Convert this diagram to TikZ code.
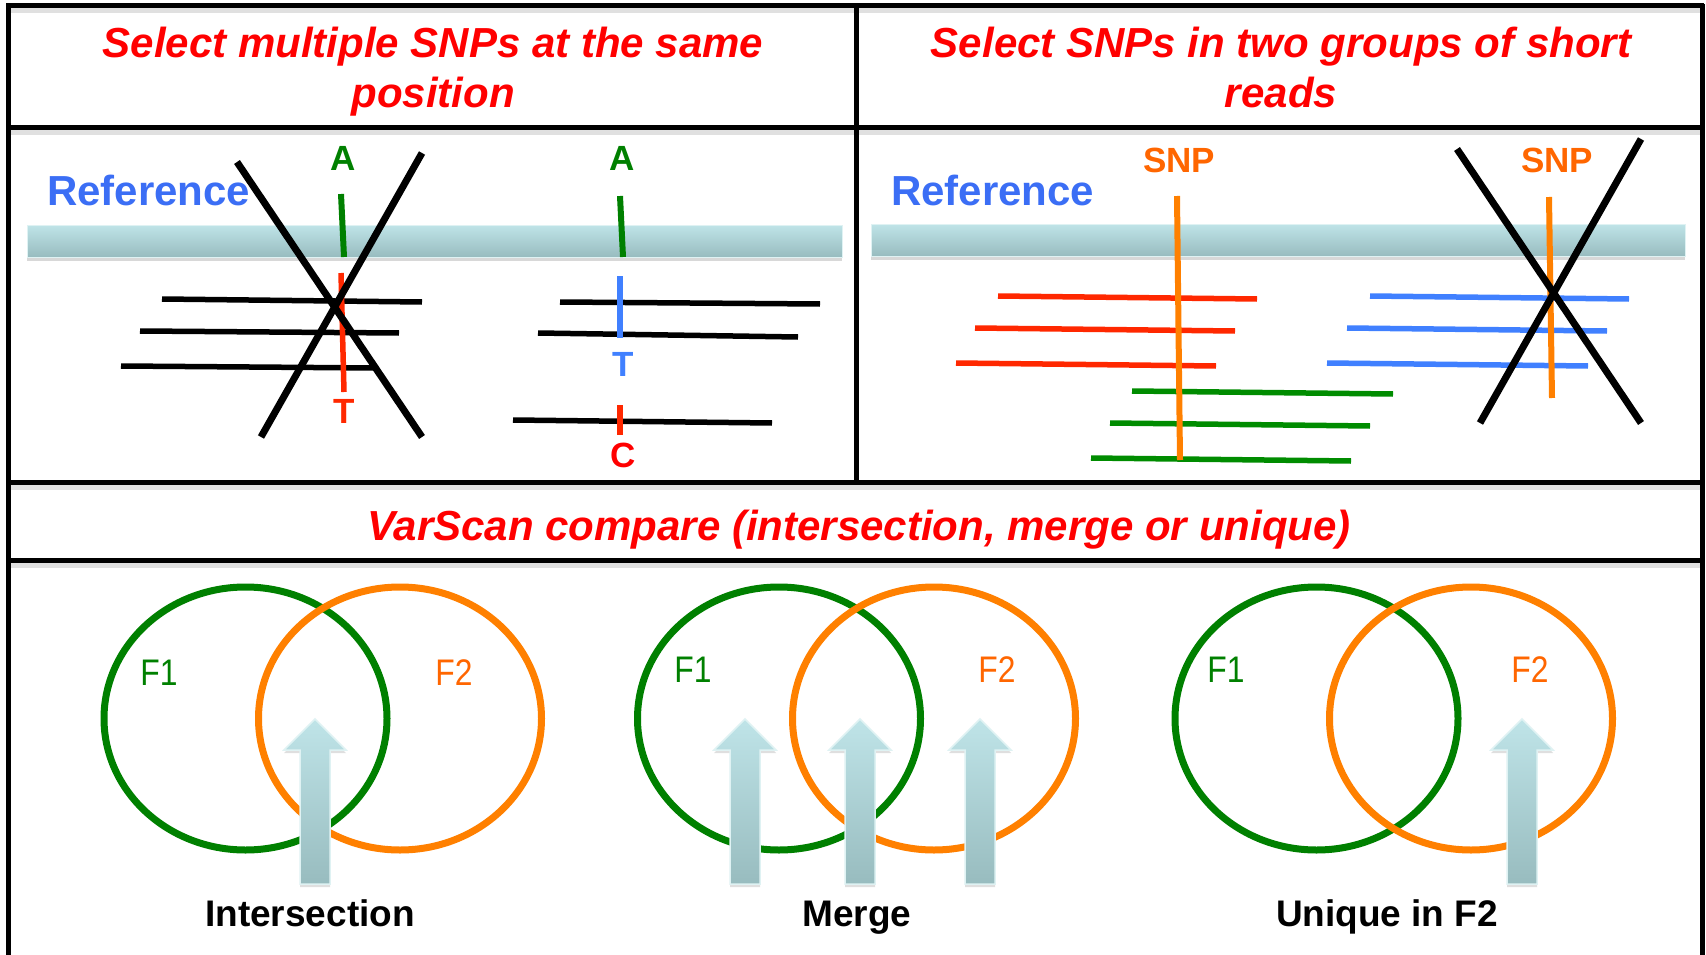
\documentclass[tikz,border=0pt]{standalone}
\usepackage{fontspec}
\setmainfont{Liberation Sans}
\usetikzlibrary{shadows}
\definecolor{ttlred}{RGB}{255,0,0}
\definecolor{refblue}{RGB}{59,110,245}
\definecolor{agreen}{RGB}{0,128,0}
\definecolor{snporange}{RGB}{255,102,0}
\definecolor{lineorange}{RGB}{255,128,0}
\definecolor{readred}{RGB}{255,40,0}
\definecolor{readblue}{RGB}{64,128,255}
\definecolor{readgreen}{RGB}{0,140,0}
\definecolor{bartop}{RGB}{191,228,232}
\definecolor{barbot}{RGB}{152,188,191}
\tikzset{
  ttl/.style={font=\fontsize{42}{50}\selectfont\bfseries\itshape, text=ttlred, inner sep=0pt, anchor=base},
  reftext/.style={font=\fontsize{42}{50}\selectfont\bfseries, text=refblue, inner sep=0pt, anchor=base west},
  lab/.style={font=\fontsize{35}{40}\selectfont\bfseries, inner sep=0pt, anchor=base},
  flab/.style={font=\fontsize{37}{40}\selectfont, inner sep=0pt, anchor=base},
  blab/.style={font=\fontsize{37}{40}\selectfont\bfseries, inner sep=0pt, anchor=base},
  read/.style={line width=5.5pt},
  tickline/.style={line width=5.5pt},
  snpline/.style={line width=6pt, lineorange},
  cross/.style={line width=7pt, black},
  venn/.style={line width=7pt},
  fatarrow/.style={top color=bartop, bottom color=barbot, draw=bartop!50!white, line width=1.5pt,
     drop shadow={opacity=0.25, shadow xshift=0pt, shadow yshift=-3pt}},
  refbar/.style={top color=bartop, bottom color=barbot, draw=bartop!50!white, line width=1pt,
     drop shadow={opacity=0.3, shadow xshift=0pt, shadow yshift=-4pt}},
  frameline/.style={line width=5pt, black},
  frameshadow/.style={line width=5pt, black, opacity=0.12},
}
\begin{document}
\begin{tikzpicture}[x=1pt, y=-1pt]
\useasboundingbox[fill=white] (0,0) rectangle (1706,955);
\clip (0,0) rectangle (1706,955);

% ---------- frame ----------
\foreach \yy in {6,128,482,560} {
  \draw[frameshadow] (10,\yy+5) -- (1700,\yy+5);
}
\draw[frameline] (8,4) -- (8,960);
\draw[frameline] (1702,4) -- (1702,960);
\draw[frameline] (6,6) -- (1704,6);
\draw[frameline] (8,128) -- (1702,128);
\draw[frameline] (856,6) -- (856,482);
\draw[frameline] (8,482) -- (1702,482);
\draw[frameline] (8,560) -- (1702,560);

% ---------- titles ----------
\node[ttl] (t1a) at (433,58) {Select multiple SNPs at the same};
\node[ttl] (t1b) at (433,108) {position};
\node[ttl] (t2a) at (1281,58) {Select SNPs in two groups of short};
\node[ttl] (t2b) at (1281,108) {reads};
\node[ttl] (t3) at (859,540) {VarScan compare (intersection, merge or unique)};

% ---------- panel 1 ----------
\node[reftext] (ref1) at (47,205) {Reference};
\path[refbar] (27,225) rectangle (842,257);
\node[lab, text=agreen] (a1) at (343,171) {A};
\node[lab, text=agreen] (a2) at (622,171) {A};
\draw[tickline, agreen, line width=6pt] (341,194) -- (344,257);
\draw[tickline, agreen, line width=6pt] (620,196) -- (623,257);
% reads left
\draw[read] (162,299) -- (422,302);
\draw[read] (140,331) -- (399,333);
\draw[read] (121,366) -- (378,368);
\draw[tickline, readred] (341,273) -- (344,392);
\node[lab, text=readred] (tl) at (344,423) {T};
% reads right
\draw[read] (560,302) -- (820,304);
\draw[read] (538,333) -- (798,337);
\draw[read] (513,420) -- (772,423);
\draw[tickline, readblue] (620,276) -- (620,338);
\node[lab, text=readblue] (tr) at (623,376) {T};
\draw[tickline, readred] (620,405) -- (620,435);
\node[lab, text=ttlred] (cr) at (623,467) {C};
% cross
\draw[cross] (237,162) -- (422,437);
\draw[cross] (422,153) -- (261,437);

% ---------- panel 2 ----------
\node[reftext] (ref2) at (891,205) {Reference};
\path[refbar] (871,224) rectangle (1685,256);
\node[lab, text=snporange] (snp1) at (1179,172) {SNP};
\node[lab, text=snporange] (snp2) at (1557,172) {SNP};
\draw[read, readred] (998,296) -- (1257,299);
\draw[read, readred] (975,328) -- (1235,331);
\draw[read, readred] (956,363) -- (1216,366);
\draw[read, readgreen] (1132,391) -- (1393,394);
\draw[read, readgreen] (1110,423) -- (1370,426);
\draw[read, readgreen] (1091,458) -- (1351,461);
\draw[read, readblue] (1370,296) -- (1629,299);
\draw[read, readblue] (1347,328) -- (1607,331);
\draw[read, readblue] (1327,363) -- (1588,366);
\draw[snpline] (1177,196) -- (1180,460);
\draw[snpline] (1549,197) -- (1552,398);
\draw[cross] (1457,149) -- (1641,423);
\draw[cross] (1641,139) -- (1480,423);

% ---------- bottom: Venn diagrams ----------
\foreach \g/\o in {245.5/400, 779/934, 1316.5/1471} {
  \draw[venn, agreen] (\g,718.5) ellipse [x radius=141.5, y radius=131.5];
  \draw[venn, lineorange] (\o,718.5) ellipse [x radius=141.5, y radius=131.5];
}
\node[flab, text=agreen] (f1a) at (159,685) {\scalebox{0.86}[1]{F1}};
\node[flab, text=snporange] (f2a) at (454,685) {\scalebox{0.86}[1]{F2}};
\node[flab, text=agreen] (f1b) at (693,682) {\scalebox{0.86}[1]{F1}};
\node[flab, text=snporange] (f2b) at (997,682) {\scalebox{0.86}[1]{F2}};
\node[flab, text=agreen] (f1c) at (1226,682) {\scalebox{0.86}[1]{F1}};
\node[flab, text=snporange] (f2c) at (1530,682) {\scalebox{0.86}[1]{F2}};

\foreach \c in {315, 745, 860, 980, 1522} {
  \path[fatarrow] (\c-15,884) -- (\c-15,750) -- (\c-31,750) -- (\c,719)
     -- (\c+31,750) -- (\c+15,750) -- (\c+15,884) -- cycle;
}

\node[blab] (lint) at (310,926) {Intersection};
\node[blab] (lmer) at (857,926) {Merge};
\node[blab] (luni) at (1387,926) {Unique in F2};
\end{tikzpicture}
\end{document}
